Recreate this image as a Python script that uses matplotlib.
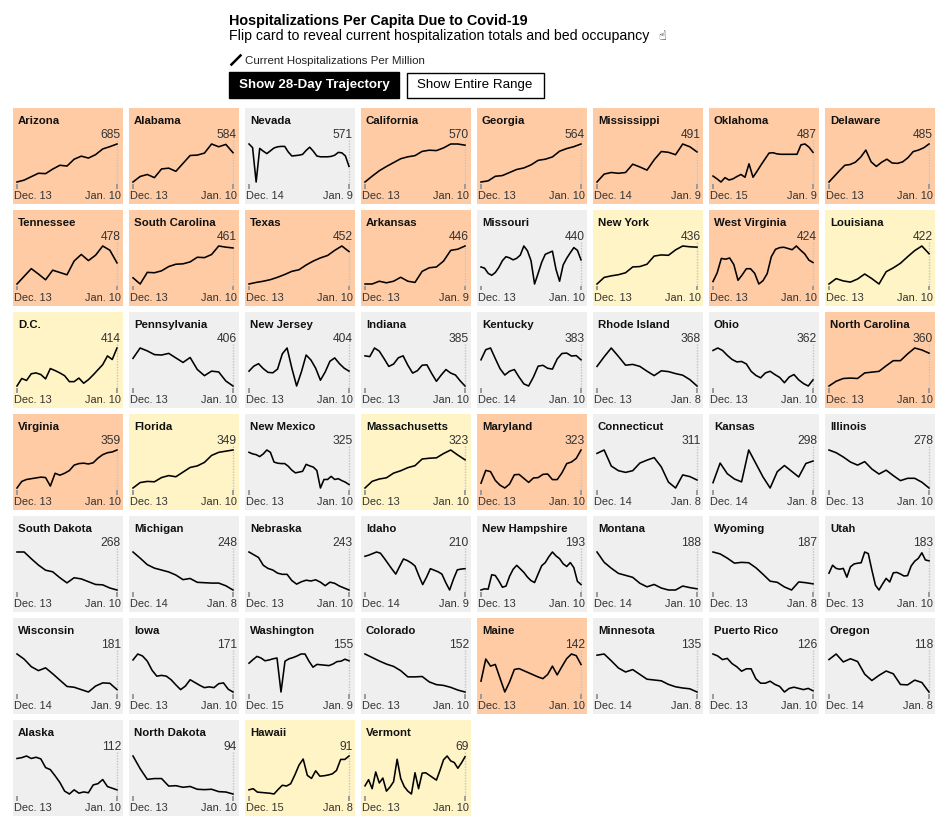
import numpy as np
import matplotlib.pyplot as plt
from matplotlib.patches import Rectangle
from matplotlib.lines import Line2D

plt.rcParams['font.family'] = ['Liberation Sans', 'DejaVu Sans']

# one card per state, sorted by current hospitalizations per million
states = ['Arizona', 'Alabama', 'Nevada', 'California', 'Georgia', 'Mississippi', 'Oklahoma', 'Delaware',
          'Tennessee', 'South Carolina', 'Texas', 'Arkansas', 'Missouri', 'New York', 'West Virginia', 'Louisiana',
          'D.C.', 'Pennsylvania', 'New Jersey', 'Indiana', 'Kentucky', 'Rhode Island', 'Ohio', 'North Carolina',
          'Virginia', 'Florida', 'New Mexico', 'Massachusetts', 'Maryland', 'Connecticut', 'Kansas', 'Illinois',
          'South Dakota', 'Michigan', 'Nebraska', 'Idaho', 'New Hampshire', 'Montana', 'Wyoming', 'Utah',
          'Wisconsin', 'Iowa', 'Washington', 'Colorado', 'Maine', 'Minnesota', 'Puerto Rico', 'Oregon',
          'Alaska', 'North Dakota', 'Hawaii', 'Vermont']

current = [685, 584, 571, 570, 564, 491, 487, 485,
           478, 461, 452, 446, 440, 436, 424, 422,
           414, 406, 404, 385, 383, 368, 362, 360,
           359, 349, 325, 323, 323, 311, 298, 278,
           268, 248, 243, 210, 193, 188, 187, 183,
           181, 171, 155, 152, 142, 135, 126, 118,
           112, 94, 91, 69]

start_dates = ['Dec. 13', 'Dec. 13', 'Dec. 14', 'Dec. 13', 'Dec. 13', 'Dec. 14', 'Dec. 15', 'Dec. 13',
               'Dec. 13', 'Dec. 13', 'Dec. 13', 'Dec. 13', 'Dec. 13', 'Dec. 13', 'Dec. 13', 'Dec. 13',
               'Dec. 13', 'Dec. 13', 'Dec. 13', 'Dec. 13', 'Dec. 14', 'Dec. 13', 'Dec. 13', 'Dec. 13',
               'Dec. 13', 'Dec. 13', 'Dec. 13', 'Dec. 13', 'Dec. 13', 'Dec. 14', 'Dec. 14', 'Dec. 13',
               'Dec. 13', 'Dec. 14', 'Dec. 13', 'Dec. 14', 'Dec. 13', 'Dec. 14', 'Dec. 13', 'Dec. 13',
               'Dec. 14', 'Dec. 13', 'Dec. 15', 'Dec. 13', 'Dec. 13', 'Dec. 14', 'Dec. 13', 'Dec. 14',
               'Dec. 13', 'Dec. 13', 'Dec. 15', 'Dec. 13']

end_dates = ['Jan. 10', 'Jan. 10', 'Jan. 9', 'Jan. 10', 'Jan. 10', 'Jan. 9', 'Jan. 9', 'Jan. 10',
             'Jan. 10', 'Jan. 10', 'Jan. 10', 'Jan. 9', 'Jan. 10', 'Jan. 10', 'Jan. 10', 'Jan. 10',
             'Jan. 10', 'Jan. 10', 'Jan. 10', 'Jan. 10', 'Jan. 10', 'Jan. 8', 'Jan. 10', 'Jan. 10',
             'Jan. 10', 'Jan. 10', 'Jan. 10', 'Jan. 10', 'Jan. 10', 'Jan. 8', 'Jan. 8', 'Jan. 10',
             'Jan. 10', 'Jan. 8', 'Jan. 10', 'Jan. 9', 'Jan. 10', 'Jan. 10', 'Jan. 8', 'Jan. 10',
             'Jan. 9', 'Jan. 10', 'Jan. 9', 'Jan. 10', 'Jan. 10', 'Jan. 8', 'Jan. 10', 'Jan. 8',
             'Jan. 10', 'Jan. 10', 'Jan. 8', 'Jan. 10']

# card colour group (bed occupancy)
level = ['high', 'high', 'none', 'high', 'high', 'high', 'high', 'high',
         'high', 'high', 'high', 'high', 'none', 'mid', 'high', 'mid',
         'mid', 'none', 'none', 'none', 'none', 'none', 'none', 'high',
         'high', 'mid', 'none', 'mid', 'high', 'none', 'none', 'none',
         'none', 'none', 'none', 'none', 'none', 'none', 'none', 'none',
         'none', 'none', 'none', 'none', 'high', 'none', 'none', 'none',
         'none', 'none', 'mid', 'mid']

# 28-day trajectory, read as position within each card's own min-max range (0-100)
trend = [
    [0, 5, 14, 23, 22, 34, 44, 42, 60, 68, 63, 72, 87, 93, 100],
    [0, 14, 19, 11, 33, 35, 27, 47, 67, 68, 73, 96, 89, 95, 74],
    [100, 91, 5, 89, 82, 76, 83, 90, 93, 94, 94, 80, 70, 71, 72, 74, 84, 92, 82, 70, 68, 68, 68, 69, 72, 79, 78, 70, 44],
    [0, 15, 29, 40, 50, 60, 65, 68, 79, 82, 81, 88, 98, 98, 95],
    [0, 3, 15, 17, 25, 33, 37, 45, 57, 60, 66, 81, 88, 93, 100],
    [0, 20, 24, 22, 24, 45, 38, 30, 56, 77, 75, 69, 96, 89, 76],
    [15, 8, 0, 11, 5, 8, 14, 19, 12, 46, 12, 27, 43, 58, 73, 74, 71, 70, 70, 70, 70, 70, 94, 96, 88, 75],
    [0, 15, 30, 44, 46, 52, 65, 84, 53, 41, 52, 60, 50, 49, 53, 64, 80, 84, 90, 100],
    [0, 20, 40, 26, 11, 36, 30, 24, 60, 77, 61, 75, 99, 88, 55],
    [18, 2, 32, 31, 36, 47, 53, 54, 59, 71, 70, 78, 100, 97, 95],
    [0, 4, 7, 11, 17, 24, 32, 36, 48, 58, 66, 72, 85, 96, 82],
    [3, 3, 10, 6, 10, 20, 10, 7, 35, 44, 46, 61, 88, 91, 99],
    [46, 43, 30, 25, 32, 45, 62, 72, 69, 64, 68, 76, 99, 87, 62, 3, 30, 58, 78, 82, 86, 40, 10, 51, 68, 82, 95, 88, 64],
    [0, 17, 21, 24, 29, 44, 45, 51, 72, 75, 74, 88, 98, 96, 95],
    [9, 30, 65, 63, 66, 50, 12, 25, 40, 40, 29, 3, 11, 28, 69, 87, 91, 92, 89, 86, 95, 85, 76, 61, 55],
    [0, 14, 8, 5, 13, 26, 14, 0, 32, 42, 54, 71, 87, 99, 79],
    [1, 20, 15, 32, 34, 30, 19, 45, 40, 34, 27, 12, 12, 21, 8, 17, 29, 42, 55, 77, 68, 97],
    [67, 92, 85, 76, 75, 79, 68, 57, 69, 40, 25, 36, 34, 12, 0],
    [39, 51, 57, 45, 36, 35, 44, 81, 95, 46, 3, 37, 78, 66, 46, 17, 37, 63, 71, 57, 46, 39],
    [77, 75, 97, 89, 70, 50, 56, 72, 77, 53, 33, 39, 53, 54, 32, 12, 28, 42, 33, 28, 13, 0],
    [65, 89, 93, 68, 44, 29, 38, 42, 24, 8, 3, 24, 50, 52, 45, 43, 67, 80, 81, 74, 75, 65],
    [49, 73, 95, 74, 52, 54, 49, 37, 26, 38, 36, 31, 27, 16, 0],
    [89, 95, 89, 77, 67, 61, 62, 56, 38, 28, 22, 34, 38, 30, 23, 10, 24, 30, 17, 8, 2, 17],
    [1, 13, 20, 21, 20, 34, 36, 38, 52, 65, 65, 82, 97, 92, 84],
    [0, 17, 22, 24, 26, 28, 27, 5, 38, 33, 38, 45, 59, 63, 64, 62, 65, 77, 86, 91, 93, 98],
    [0, 14, 17, 16, 27, 32, 29, 41, 53, 57, 66, 84, 92, 95, 98],
    [92, 88, 86, 81, 88, 98, 92, 67, 64, 63, 63, 56, 46, 39, 41, 43, 61, 57, 54, 45, 0, 22, 22, 30, 22, 24, 19, 15, 9],
    [0, 17, 23, 26, 38, 44, 52, 57, 74, 76, 77, 88, 97, 84, 72],
    [15, 47, 44, 22, 10, 3, 13, 36, 37, 27, 17, 28, 29, 37, 38, 24, 24, 41, 64, 68, 77, 98],
    [87, 95, 57, 46, 42, 46, 64, 71, 77, 55, 19, 5, 36, 32, 24],
    [15, 63, 37, 24, 17, 95, 62, 29, 2, 42, 57, 43, 29, 62, 68],
    [98, 91, 80, 67, 59, 68, 49, 36, 46, 32, 19, 25, 25, 15, 0],
    [97, 97, 80, 64, 51, 47, 32, 19, 32, 29, 22, 15, 14, 6, 1],
    [99, 83, 66, 57, 52, 47, 39, 27, 30, 20, 19, 18, 18, 11, 0],
    [97, 90, 83, 63, 55, 51, 43, 40, 40, 24, 15, 21, 25, 23, 26, 20, 11, 20, 17, 10, 5, 0],
    [87, 90, 94, 98, 95, 82, 68, 54, 41, 61, 80, 76, 70, 62, 37, 14, 33, 55, 51, 47, 41, 19, 0, 28, 52, 54, 55],
    [1, 4, 3, 40, 38, 24, 8, 11, 36, 54, 64, 55, 46, 34, 25, 20, 42, 63, 71, 86, 98, 88, 81, 68, 61, 71, 58, 23, 15],
    [99, 73, 58, 45, 40, 35, 20, 11, 17, 8, 3, 3, 13, 9, 6],
    [99, 94, 83, 70, 72, 71, 58, 41, 23, 20, 8, 0, 21, 19, 16],
    [42, 62, 54, 52, 54, 32, 58, 65, 67, 68, 95, 91, 50, 12, 0, 15, 29, 20, 43, 44, 40, 35, 36, 60, 72, 79, 93, 75, 73],
    [98, 85, 66, 56, 63, 48, 32, 16, 14, 8, 2, 17, 25, 24, 8],
    [81, 96, 91, 78, 55, 40, 42, 40, 31, 18, 6, 15, 31, 24, 17, 11, 13, 11, 21, 23, 7, 0],
    [72, 81, 89, 85, 78, 80, 83, 85, 0, 77, 83, 86, 90, 95, 95, 77, 62, 69, 68, 67, 66, 70, 76, 77, 82, 78],
    [98, 89, 80, 72, 66, 55, 39, 39, 40, 26, 19, 17, 12, 5, 0],
    [28, 81, 64, 68, 35, 2, 26, 56, 58, 53, 48, 43, 38, 34, 44, 64, 43, 63, 82, 93, 89, 68],
    [92, 95, 78, 60, 50, 56, 44, 32, 30, 28, 19, 13, 10, 8, 0],
    [98, 93, 84, 87, 74, 66, 55, 61, 61, 36, 25, 25, 30, 22, 17, 3, 12, 15, 12, 9, 12, 6],
    [82, 96, 76, 84, 77, 45, 29, 42, 53, 46, 19, 18, 30, 24, 0],
    [91, 93, 97, 91, 94, 90, 69, 64, 49, 33, 12, 5, 15, 7, 10, 8, 27, 30, 40, 23, 19, 15],
    [96, 64, 37, 39, 39, 20, 21, 17, 19, 12, 11, 12, 6, 5, 0],
    [11, 14, 5, 4, 3, 2, 0, 12, 23, 21, 27, 50, 76, 92, 49, 41, 61, 47, 48, 50, 53, 62, 91, 91, 100],
    [25, 40, 18, 59, 32, 44, 12, 22, 35, 90, 43, 23, 12, 5, 57, 18, 56, 57, 51, 45, 39, 63, 89, 98, 86, 82, 68, 81, 96],
]

card_colors = {'high': '#FFCBA4', 'mid': '#FFF4C6', 'none': '#EFEFEF'}

W, H = 945, 823
fig = plt.figure(figsize=(W / 100, H / 100), dpi=100)
fig.patch.set_facecolor('white')


def px(n):
    # font size in points for a pixel size at 100 dpi
    return n * 0.72


def fx(x):
    return x / W


def fy(y):
    return 1 - y / H


# header
fig.text(fx(229), fy(25), 'Hospitalizations Per Capita Due to Covid-19', fontsize=px(14.4),
         fontweight='bold', va='baseline', color='black')
fig.text(fx(229), fy(40), 'Flip card to reveal current hospitalization totals and bed occupancy',
         fontsize=px(14.1), va='baseline', color='black')
fig.text(fx(658), fy(40.5), '\u261d', fontsize=px(12.5), fontweight='bold', va='baseline',
         family=['DejaVu Sans'], color='black')
fig.add_artist(Line2D([fx(231.5), fx(240.5)], [fy(64.5), fy(55.5)], color='black', lw=1.8,
                      transform=fig.transFigure))
fig.text(fx(245), fy(64), 'Current Hospitalizations Per Million', fontsize=px(11.5),
         va='baseline', color='#222222')
fig.add_artist(Rectangle((fx(229), fy(98)), fx(170), 26 / H, transform=fig.transFigure,
                         facecolor='black', edgecolor='black'))
fig.text(fx(314), fy(85), 'Show 28-Day Trajectory', fontsize=px(13.4), fontweight='bold',
         color='white', ha='center', va='center')
fig.add_artist(Rectangle((fx(406.5), fy(97.5)), fx(137.5), 25 / H, transform=fig.transFigure,
                         facecolor='white', edgecolor='black', lw=1))
fig.text(fx(475), fy(85), 'Show Entire Range', fontsize=px(13.4), color='black',
         ha='center', va='center')

# cards
cw, ch = 110, 96
left0, top0 = 13, 108
step_x, step_y = 116, 102
line_l, line_r = 4, 104      # line x extent inside card (px)
line_t, line_b = 36, 74      # line y extent inside card (px from top)

for i, name in enumerate(states):
    row, col = divmod(i, 8)
    cl = left0 + col * step_x
    ct = top0 + row * step_y
    ax = fig.add_axes([fx(cl), fy(ct + ch), cw / W, ch / H])
    ax.set_facecolor(card_colors[level[i]])
    for sp in ax.spines.values():
        sp.set_visible(False)
    ax.set_xticks([])
    ax.set_yticks([])

    vals = np.array(trend[i], dtype=float)
    days = np.arange(len(vals))
    n = len(vals) - 1
    sx = (line_r - line_l) / n
    ax.set_xlim(-line_l / sx, n + (cw - line_r) / sx)
    lo, hi = vals.min(), vals.max()
    sy = (line_b - line_t) / (hi - lo)
    ax.set_ylim(lo - (ch - line_b) / sy, hi + line_t / sy)

    xt = ax.get_xaxis_transform()
    ax.plot([n, n], [1 - 32 / ch, 1 - 76 / ch], transform=xt, color='#C4C4C4',
            lw=1, ls=(0, (1, 1)), zorder=1)
    for d in (0, n):
        ax.plot([d, d], [1 - 76 / ch, 1 - 80.5 / ch], transform=xt, color='#9A9A9A',
                lw=1.4, zorder=1, solid_capstyle='butt')
    ax.plot(days, vals, color='black', lw=1.15, zorder=3, solid_joinstyle='round')

    ax.text(5 / cw, 1 - 15.5 / ch, name, transform=ax.transAxes, fontsize=px(11.4),
            fontweight='bold', va='baseline', ha='left', color='#111111')
    ax.text(1 - 2 / cw, 1 - 30 / ch, str(current[i]), transform=ax.transAxes,
            fontsize=px(12), va='baseline', ha='right', color='#333333')
    ax.text(1 / cw, 1 - 91 / ch, start_dates[i], transform=ax.transAxes,
            fontsize=px(11), va='baseline', ha='left', color='#333333')
    ax.text(1 - 2 / cw, 1 - 91 / ch, end_dates[i], transform=ax.transAxes,
            fontsize=px(11), va='baseline', ha='right', color='#333333')

fig.savefig('out.png', dpi=100)
